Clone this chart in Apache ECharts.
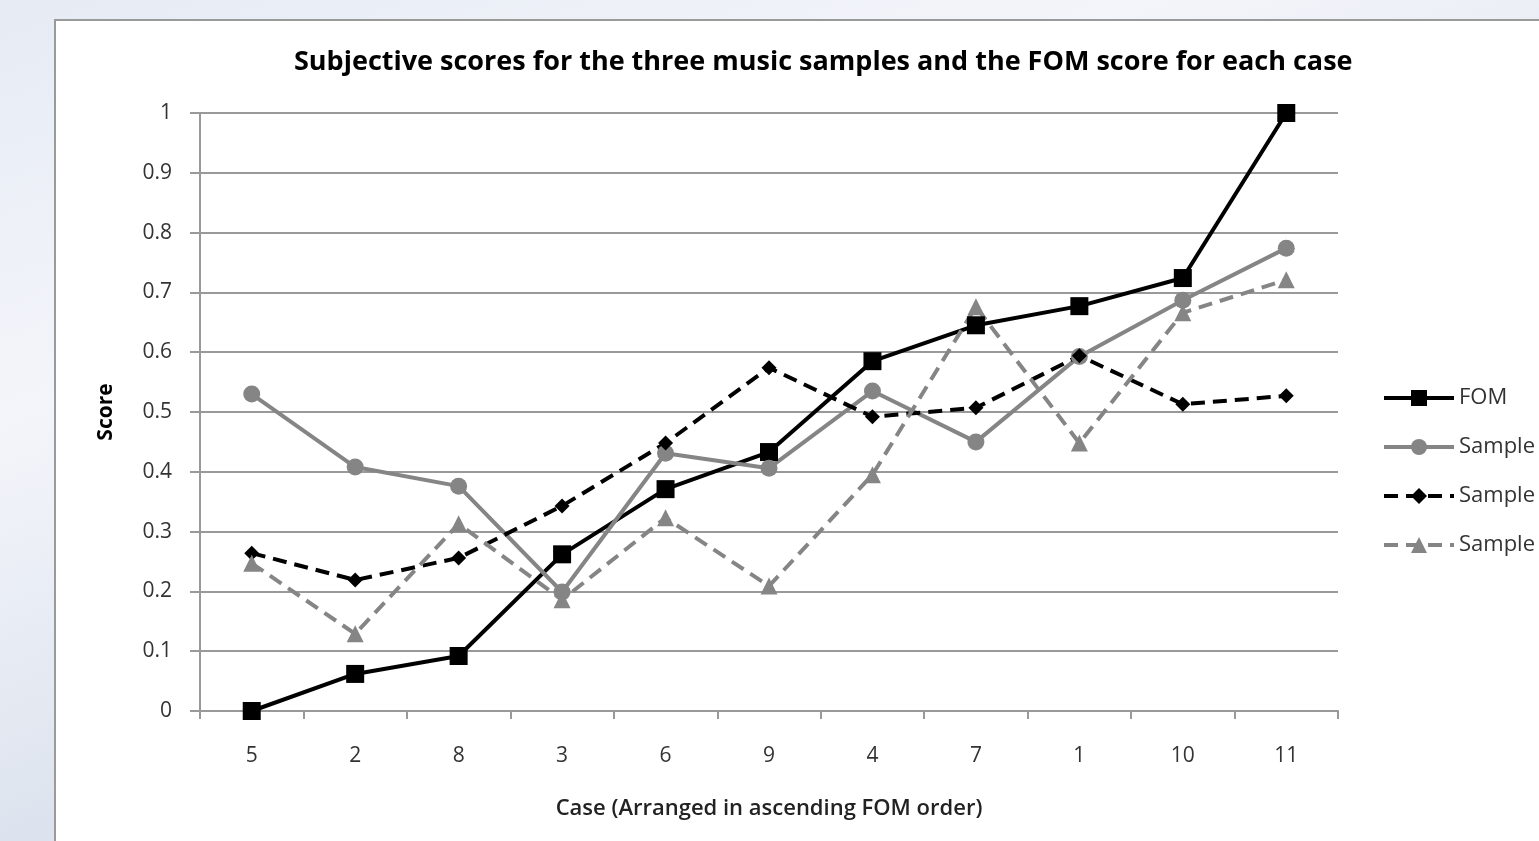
<!DOCTYPE html>
<html>
<head>
<meta charset="utf-8">
<script src="https://cdn.jsdelivr.net/npm/echarts@6/dist/echarts.min.js"></script>
<style>
  html, body { margin: 0; padding: 0; width: 1539px; height: 841px; overflow: hidden; }
  body { background: linear-gradient(160deg, #e6ebf4 0%, #f3f5fa 30%, #dde3ee 60%, #eef2f8 100%); position: relative; }
  #panel { position: absolute; left: 54px; top: 19px; width: 1500px; height: 840px; background: #fff; border: 2px solid #9a9a9a; }
  #main { position: absolute; left: 0; top: 0; width: 1539px; height: 841px; }
</style>
</head>
<body>
<div id="panel"></div>
<div id="main"></div>
<script>
// cases, sorted by FOM
var cases = ['5', '2', '8', '3', '6', '9', '4', '7', '1', '10', '11'];
var yTicks = [0, 0.1, 0.2, 0.3, 0.4, 0.5, 0.6, 0.7, 0.8, 0.9, 1];

var fom     = [0, 0.062, 0.092, 0.262, 0.371, 0.433, 0.585, 0.645, 0.677, 0.724, 1.0];
var sample1 = [0.530, 0.408, 0.376, 0.199, 0.431, 0.406, 0.535, 0.450, 0.593, 0.687, 0.774];
var sample2 = [0.264, 0.219, 0.256, 0.343, 0.448, 0.574, 0.492, 0.507, 0.594, 0.513, 0.527];
var sample3 = [0.247, 0.129, 0.313, 0.186, 0.323, 0.209, 0.395, 0.676, 0.448, 0.666, 0.721];

var font = '"Open Sans", "Noto Sans", sans-serif';
var gridGray = '#999999';

function mkSeries(name, data, color, dash, symbol, size) {
    return {
        name: name,
        type: 'line',
        data: data,
        symbol: symbol,
        symbolSize: size,
        showAllSymbol: true,
        lineStyle: { color: color, width: 4, type: dash ? [14, 8] : 'solid' },
        itemStyle: { color: color },
        emphasis: { disabled: true },
        animation: false
    };
}

var chart = echarts.init(document.getElementById('main'));
chart.setOption({
    backgroundColor: 'transparent',
    animation: false,
    title: {
        text: 'Subjective scores for the three music samples and the FOM score for each case',
        left: 289,
        top: 44,
        textStyle: { fontFamily: font, fontSize: 27, fontWeight: 'bold', color: '#000' }
    },
    legend: {
        orient: 'vertical',
        left: 1377,
        top: 382,
        itemWidth: 70,
        itemHeight: 20,
        itemGap: 27,
        lineStyle: { width: 4 },
        textStyle: { fontFamily: font, fontSize: 22, color: '#333' },
        data: ['FOM', 'Sample 1', 'Sample 2', 'Sample 3']
    },
    grid: { left: 200, top: 113, right: 201, bottom: 130 },
    xAxis: {
        type: 'category',
        data: cases,
        boundaryGap: true,
        name: 'Case (Arranged in ascending FOM order)',
        nameLocation: 'middle',
        nameGap: 87,
        nameTextStyle: { fontFamily: font, fontSize: 22, fontWeight: 600, color: '#222' },
        axisLine: { lineStyle: { color: gridGray, width: 2 } },
        axisTick: { show: true, length: 8, alignWithLabel: false, lineStyle: { color: gridGray, width: 2 } },
        axisLabel: { margin: 35, fontFamily: font, fontSize: 21, color: '#333' }
    },
    yAxis: {
        type: 'value',
        min: yTicks[0],
        max: yTicks[yTicks.length - 1],
        interval: 0.1,
        name: 'Score',
        nameLocation: 'middle',
        nameGap: 83,
        nameTextStyle: { fontFamily: font, fontSize: 21, fontWeight: 'bold', color: '#000' },
        axisLine: { show: true, lineStyle: { color: gridGray, width: 2 } },
        axisTick: { show: true, length: 10, lineStyle: { color: gridGray, width: 2 } },
        axisLabel: { margin: 28, fontFamily: font, fontSize: 21, color: '#333',
            formatter: function (v) { return String(Math.round(v * 10) / 10); } },
        splitLine: { show: true, lineStyle: { color: gridGray, width: 2 } }
    },
    series: [
        mkSeries('FOM', fom, '#000000', false, 'rect', 18),
        mkSeries('Sample 1', sample1, '#858585', false, 'circle', 17),
        mkSeries('Sample 2', sample2, '#000000', true, 'diamond', 15),
        mkSeries('Sample 3', sample3, '#858585', true, 'triangle', 17)
    ]
});
</script>
</body>
</html>
